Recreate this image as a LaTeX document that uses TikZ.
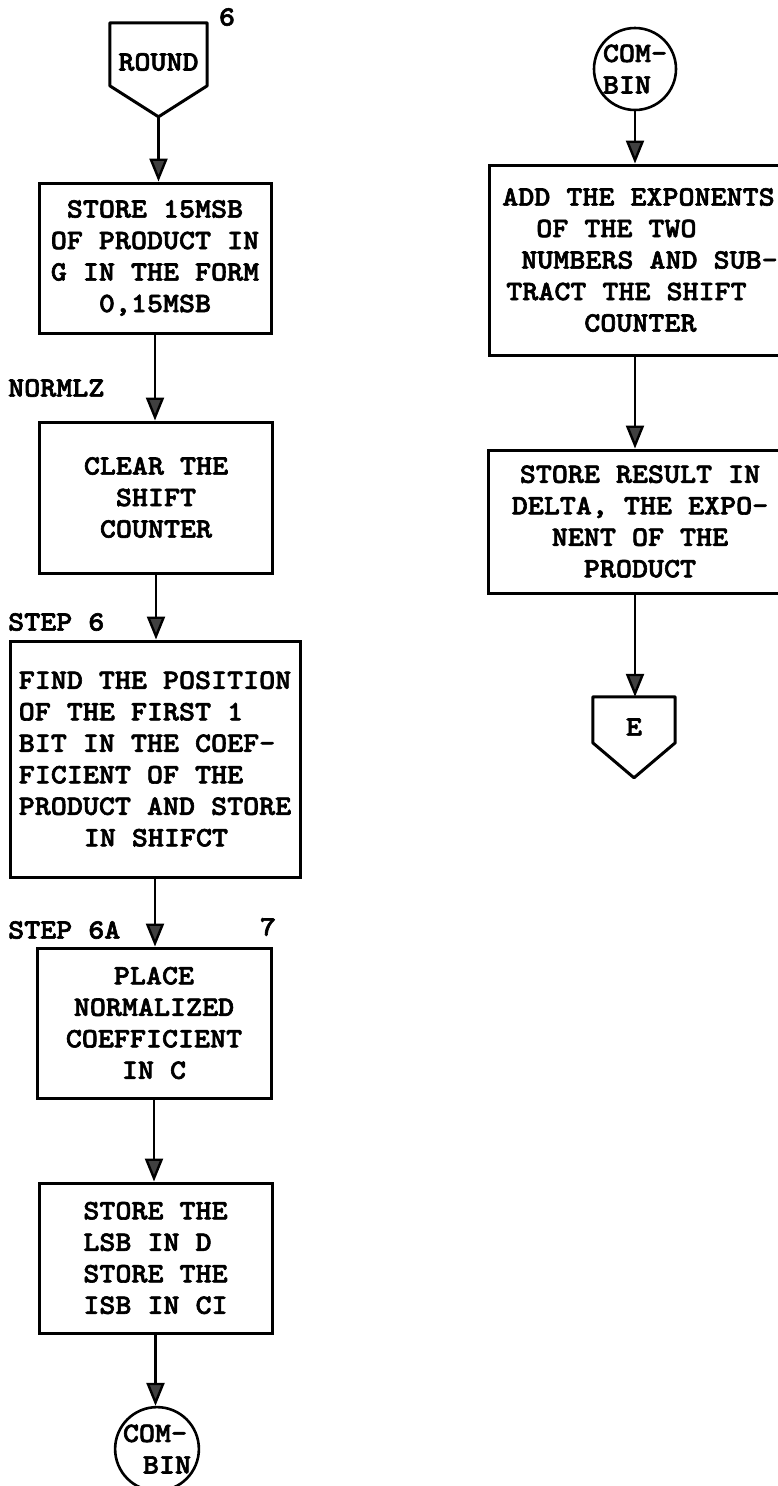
\documentclass[tikz,border=0pt]{standalone}
\usepackage{fontspec}
\usetikzlibrary{arrows.meta}
% typewriter face used for every label of the chart
\newfontfamily\tw{lmmonolt10-bold.otf}[FakeStretch=1.09,FakeBold=2.2]
\newcommand{\twsize}{\tw\fontsize{28}{31.5}\selectfont}
\begin{document}
\begin{tikzpicture}[x=1pt,y=-1pt,
  txt/.style={font=\twsize, inner sep=0pt},
  procbox/.style={draw, line width=3pt, font=\twsize, inner sep=0pt},
  conn/.style={draw, circle, line width=2.6pt, font=\twsize, inner sep=0pt, minimum size=82pt, align=left},
  outline/.style={line width=3pt, line join=round},
  flow/.style={line width=2.4pt, -{Triangle[width=18pt,length=23pt,fill=black!75]}}]
\useasboundingbox (0,0) rectangle (778,1486);

% ---------------- left column ----------------
\node[txt, minimum width=97pt, minimum height=78pt] (rnd) at (158.5,62) {ROUND};
\coordinate (rndtip) at ([yshift=-94pt]rnd.north);
\draw[outline] (rnd.north west) -- (rnd.north east) -- ([yshift=-63pt]rnd.north east)
  -- (rndtip) -- ([yshift=-63pt]rnd.north west) -- cycle;
\node[txt] (n6) at (227,17) {6};

\node[procbox, minimum width=232pt, minimum height=150pt, align=center] (b1) at (155,258)
  {STORE 15MSB\\OF PRODUCT IN\\G IN THE FORM\\0,15MSB};

\node[txt, anchor=west] (normlz) at (8,388) {NORMLZ};
\node[procbox, minimum width=233pt, minimum height=151pt, align=center] (b2) at (156,497.5)
  {CLEAR THE\\SHIFT\\COUNTER};

\node[txt, anchor=west] (step6) at (8,622) {STEP 6};
\node[procbox, minimum width=290pt, minimum height=236pt, align=left] (b3) at (155,759)
  {FIND THE POSITION\\OF THE FIRST 1\\BIT IN THE COEF-\\FICIENT OF THE\\PRODUCT AND STORE\\\hspace*{65pt}IN SHIFCT};

\node[txt, anchor=west] (step6a) at (8,930) {STEP 6A};
\node[txt] (n7) at (268,927) {7};
\node[procbox, minimum width=234pt, minimum height=150pt, align=center] (b4) at (154,1023)
  {PLACE\\NORMALIZED\\COEFFICIENT\\IN C};

\node[procbox, minimum width=233pt, minimum height=150pt, align=left] (b5) at (155.5,1258)
  {STORE THE\\LSB IN D\\STORE THE\\ISB IN CI};

\node[conn] (c1) at (157,1449) {COM-\\\hspace*{20pt}BIN};

\draw[flow] (rndtip) -- (rndtip |- b1.north);
\draw[flow] (b1.south) -- (b1.south |- b2.north);
\draw[flow] (b2.south) -- (b2.south |- b3.north);
\draw[flow] (b3.south) -- (b3.south |- b4.north);
\draw[flow] (b4.south) -- (b4.south |- b5.north);
\draw[flow] (b5.south) -- (b5.south |- c1.north);

% ---------------- right column ----------------
\node[conn] (c2) at (635,69) {COM-\\BIN};

\node[procbox, minimum width=302pt, minimum height=190pt, align=left] (b6) at (640,260)
  {ADD THE EXPONENTS\\\hspace*{34pt}OF THE TWO\\\hspace*{19pt}NUMBERS AND SUB-\\\hspace*{4pt}TRACT THE SHIFT\\\hspace*{82pt}COUNTER};

\node[procbox, minimum width=304pt, minimum height=143pt, align=center] (b7) at (640,521.5)
  {STORE RESULT IN\\DELTA, THE EXPO-\\NENT OF THE\\PRODUCT};

\node[txt, minimum width=82pt, minimum height=60pt] (ex) at (634,727) {E};
\coordinate (extip) at ([yshift=-81pt]ex.north);
\draw[outline] (ex.north west) -- (ex.north east) -- ([yshift=-46pt]ex.north east)
  -- (extip) -- ([yshift=-46pt]ex.north west) -- cycle;

\draw[flow] (c2.south) -- (c2.south |- b6.north);
\draw[flow] (c2 |- b6.south) -- (c2 |- b7.north);
\draw[flow] (c2 |- b7.south) -- (c2 |- ex.north);
\end{tikzpicture}
\end{document}
